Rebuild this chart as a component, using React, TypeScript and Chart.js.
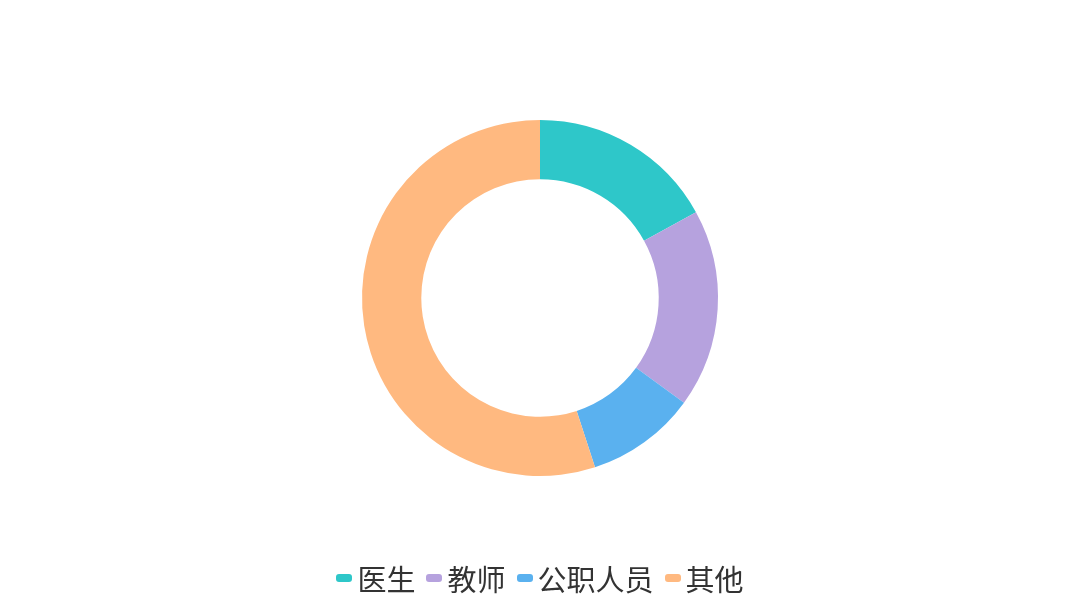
import { useEffect, useRef } from "react";
import { Chart, registerables } from "chart.js";

Chart.register(...registerables);

const categories = ["医生", "教师", "公职人员", "其他"];
const shares = [17, 18, 10, 55];
const colors = ["#2ec7c9", "#b6a2de", "#5ab1ef", "#ffb980"];

const FONT = '"Noto Sans CJK SC", "Noto Sans", sans-serif';

export default function App() {
  const canvasRef = useRef<HTMLCanvasElement | null>(null);

  useEffect(() => {
    if (!canvasRef.current) {
      return;
    }
    const ctx = canvasRef.current.getContext("2d");
    if (!ctx) {
      return;
    }

    const chart = new Chart(ctx, {
      type: "doughnut",
      data: {
        labels: categories,
        datasets: [
          {
            data: shares,
            backgroundColor: colors,
            borderWidth: 0,
          },
        ],
      },
      options: {
        animation: false,
        responsive: false,
        cutout: "66.7%",
        layout: {
          padding: { top: 120, bottom: 120 },
        },
        plugins: {
          legend: { display: false },
          tooltip: { enabled: false },
        },
      },
    });

    return () => {
      chart.destroy();
    };
  }, []);

  return (
    <div
      style={{
        position: "fixed",
        left: 0,
        top: 0,
        width: 1080,
        height: 596,
        background: "#ffffff",
        fontFamily: FONT,
      }}
    >
      <canvas ref={canvasRef} width={1080} height={596}></canvas>
      <div
        style={{
          position: "absolute",
          left: 0,
          right: 0,
          top: 560,
          display: "flex",
          justifyContent: "center",
          alignItems: "center",
        }}
      >
        {categories.map((name, i) => (
          <div
            key={name}
            style={{
              display: "flex",
              alignItems: "center",
              marginLeft: i === 0 ? 0 : 11,
            }}
          >
            <span
              style={{
                display: "inline-block",
                width: 16,
                height: 8,
                borderRadius: 3,
                background: colors[i],
                marginRight: 5,
              }}
            ></span>
            <span style={{ fontSize: 29, color: "#333333", lineHeight: "36px" }}>
              {name}
            </span>
          </div>
        ))}
      </div>
    </div>
  );
}
